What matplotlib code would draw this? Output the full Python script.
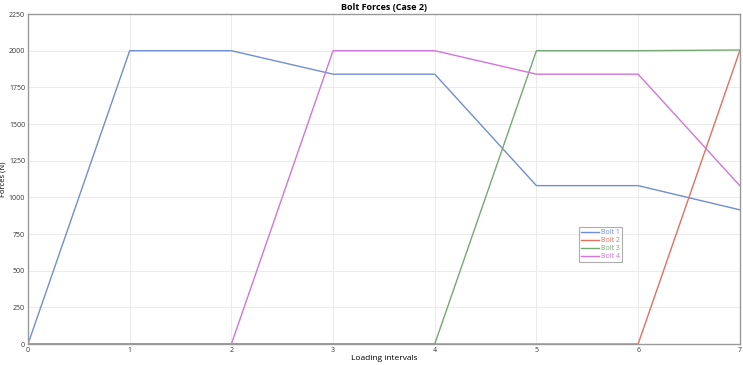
import numpy as np
import matplotlib.pyplot as plt

plt.rcParams['font.family'] = ['Open Sans', 'DejaVu Sans']

# Loading intervals and bolt forces (N)
intervals = [0, 1, 2, 3, 4, 5, 6, 7]
bolt1 = [0, 2000, 2000, 1840, 1840, 1080, 1080, 915]
bolt2 = [0, 0, 0, 0, 0, 0, 0, 2000]
bolt3 = [0, 0, 0, 0, 0, 2000, 2000, 2005]
bolt4 = [0, 0, 0, 2000, 2000, 1840, 1840, 1080]

series = [("Bolt 1", bolt1, "#6f8ed4"),
          ("Bolt 2", bolt2, "#e2705e"),
          ("Bolt 3", bolt3, "#74a872"),
          ("Bolt 4", bolt4, "#d274dc")]

fig = plt.figure(figsize=(7.43, 3.65), dpi=100)
ax = fig.add_axes([0.0377, 0.0575, 0.958, 0.904])

for name, vals, col in series:
    ax.plot(intervals, vals, color=col, lw=1.0, label=name)

ax.set_xlim(0, 7)
ax.set_ylim(0, 2250)
ax.set_xticks(intervals)
ax.set_yticks(np.arange(0, 2251, 250))
ax.grid(color="#ebebeb", lw=0.7)
ax.set_axisbelow(True)
ax.tick_params(length=0, labelsize=5, colors="#333333", pad=2)
for sp in ax.spines.values():
    sp.set_color("#999999")
    sp.set_linewidth(1)

ax.set_title("Bolt Forces (Case 2)", fontsize=6.5, fontweight="bold", pad=3)
ax.set_xlabel("Loading intervals", fontsize=6, labelpad=1)
ax.set_ylabel("Forces (N)", fontsize=5.5, labelpad=2)

leg = ax.legend(loc="upper left", bbox_to_anchor=(0.774, 0.355), fontsize=5,
                frameon=True, fancybox=False, handlelength=2.6, borderpad=0.3,
                labelspacing=0.15, handletextpad=0.3, borderaxespad=0)
leg.get_frame().set_edgecolor("#999999")
leg.get_frame().set_linewidth(0.8)
for txt, (_, _, col) in zip(leg.get_texts(), series):
    txt.set_color(col)

fig.savefig("out.png", dpi=100)
